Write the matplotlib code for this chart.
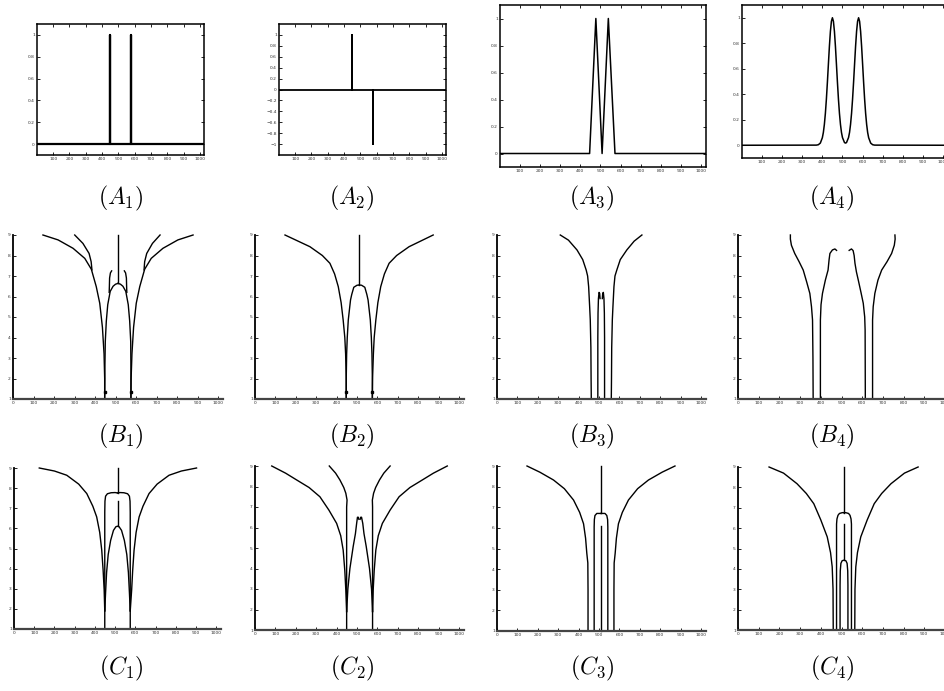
import matplotlib
matplotlib.use('Agg')
import matplotlib.pyplot as plt

plt.rcParams['mathtext.fontset'] = 'cm'

# ---- row A: signals ----
a1_x = [1, 447, 447, 447, 575, 575, 575, 1024]
a1_y = [0, 0, 1, 0, 0, 1, 0, 0]

a2_x = [1, 447, 447, 447, 575, 575, 575, 1024]
a2_y = [0, 0, 1, 0, 0, -1, 0, 0]

a3_x = [1, 446, 477, 508, 539, 572, 1024]
a3_y = [0, 0, 1, 0, 1, 0, 0]

a4_x = [1, 370, 380, 390, 400, 405, 410, 415, 420, 425, 430, 435, 440, 445, 450,
        455, 460, 465, 470, 475, 480, 485, 490, 495, 500, 510, 515, 520, 530, 535,
        540, 545, 550, 555, 560, 565, 570, 575, 580, 585, 590, 595, 600, 605, 610,
        615, 620, 625, 630, 640, 650, 660, 1024]
a4_y = [0, 0.001, 0.004, 0.017, 0.059, 0.100, 0.163, 0.249, 0.360, 0.492, 0.635, 0.775, 0.893, 0.972, 1.0,
        0.972, 0.893, 0.775, 0.635, 0.492, 0.360, 0.249, 0.163, 0.100, 0.060, 0.021, 0.017, 0.021, 0.060, 0.100,
        0.163, 0.249, 0.360, 0.492, 0.635, 0.775, 0.893, 0.972, 1.0, 0.972, 0.893, 0.775, 0.635, 0.492, 0.360,
        0.249, 0.163, 0.100, 0.059, 0.017, 0.004, 0.001, 0]

x_ticks = [100, 200, 300, 400, 500, 600, 700, 800, 900, 1000]
y_ticks_a = [0, 0.2, 0.4, 0.6, 0.8, 1]
y_ticks_a2 = [-1, -0.8, -0.6, -0.4, -0.2, 0, 0.2, 0.4, 0.6, 0.8, 1]

# ---- rows B, C: maxima lines (x, scale) ----
b1_curves = [
    [(146, 9), (220, 8.76), (293, 8.35), (350, 7.86), (382, 7.33), (406, 6.48), (423, 5.67), (436, 4.5), (444, 3.2), (447, 2.0), (447, 1)],
    [(301, 9), (341, 8.59), (371, 8.1), (381, 7.7), (385, 7.3)],
    [(481, 7.25), (475, 7.15), (471, 6.9), (470, 6.5), (469, 6.2)],
    [(512, 6.64), (500, 6.6), (488, 6.5), (474, 6.25), (462, 5.6), (455, 4.8), (450, 3.8), (448, 2.5), (447, 1)],
    [(512, 9), (512, 6.64)],
    [(878, 9), (804, 8.76), (731, 8.35), (674, 7.86), (642, 7.33), (618, 6.48), (601, 5.67), (588, 4.5), (580, 3.2), (576, 2.0), (575, 1)],
    [(717, 9), (680, 8.59), (652, 8.1), (642, 7.7), (639, 7.3)],
    [(543, 7.25), (549, 7.15), (553, 6.9), (554, 6.5), (555, 6.2)],
    [(512, 6.64), (524, 6.6), (536, 6.5), (550, 6.25), (562, 5.6), (569, 4.8), (574, 3.8), (575, 2.5), (575, 1)],
]
b1_marks_x = [447, 575]
b1_marks_y = [1.33, 1.33]

b2_curves = [
    [(147, 9), (269, 8.43), (330, 8.0), (367, 7.62), (390, 7.1), (408, 6.48), (422, 5.7), (432, 4.85), (440, 4.0), (444, 3.2), (447, 2.0), (447, 1)],
    [(511, 6.56), (500, 6.55), (484, 6.45), (474, 6.1), (468, 5.83), (462, 5.3), (457, 4.85), (452, 4.0), (449, 3.2), (447, 2.0), (447, 1)],
    [(511, 9), (511, 6.56)],
    [(511, 6.56), (522, 6.55), (538, 6.45), (548, 6.1), (554, 5.83), (560, 5.3), (565, 4.85), (570, 4.0), (573, 3.2), (575, 2.0), (575, 1)],
    [(873, 9), (755, 8.43), (694, 8.0), (657, 7.62), (634, 7.1), (616, 6.48), (602, 5.7), (592, 4.85), (584, 4.0), (580, 3.2), (576, 2.0), (575, 1)],
]
b2_marks_x = [447, 575]
b2_marks_y = [1.33, 1.33]

b3_curves = [
    [(310, 9), (350, 8.75), (392, 8.27), (420, 7.8), (437, 7.29), (444, 7.0), (449, 6.48), (454, 5.5), (457, 4.85), (460, 3.5), (461, 2), (462, 1)],
    [(494, 1), (494, 4), (495, 5.2), (497, 5.9), (500, 6.2), (503, 6.15), (505, 5.9)],
    [(527, 1), (527, 4), (526, 5.2), (524, 5.9), (521, 6.2), (518, 6.15), (516, 5.9)],
    [(560, 1), (561, 2), (562, 3.5), (565, 4.85), (568, 5.5), (573, 6.48), (578, 7.0), (587, 7.29), (604, 7.8), (636, 8.27), (672, 8.7), (710, 9)],
]

b4_curves = [
    [(253, 9), (253, 8.8), (258, 8.5), (274, 8.1), (295, 7.7), (315, 7.29), (332, 6.7), (347, 6.15), (355, 5.5), (360, 4.85), (362, 3), (363, 1)],
    [(398, 1), (398, 4.85), (401, 5.6), (408, 6.15), (422, 6.8), (435, 7.29), (440, 7.8), (444, 8.1), (456, 8.27), (468, 8.32), (476, 8.25)],
    [(537, 8.25), (548, 8.32), (556, 8.24), (561, 8.0), (565, 7.62), (572, 7.2), (581, 6.8), (594, 6.2), (605, 5.67), (612, 5.0), (614, 4.37), (615, 1)],
    [(650, 1), (650, 4.85), (653, 5.5), (661, 6.15), (676, 6.8), (694, 7.29), (720, 7.7), (742, 8.1), (755, 8.5), (759, 8.8), (758, 9)],
]

c1_curves = [
    [(125, 9), (200, 8.85), (261, 8.64), (320, 8.2), (360, 7.73), (390, 7.1), (409, 6.57), (424, 5.8), (434, 4.92), (441, 3.9), (446, 2.94), (449, 1.9)],
    [(903, 9), (828, 8.85), (767, 8.64), (708, 8.2), (668, 7.73), (638, 7.1), (619, 6.57), (604, 5.8), (594, 4.92), (587, 3.9), (582, 2.94), (575, 1.9)],
    [(512, 7.76), (500, 7.78), (480, 7.77), (462, 7.72), (453, 7.6), (450, 7.35), (449, 6.8), (449, 1)],
    [(512, 7.76), (524, 7.78), (544, 7.77), (562, 7.72), (571, 7.6), (574, 7.35), (575, 6.8), (575, 1)],
    [(449, 1.9), (453, 2.8), (458, 3.8), (466, 4.7), (478, 5.4), (492, 5.9), (504, 6.08), (512, 6.11),
     (520, 6.08), (532, 5.9), (546, 5.4), (558, 4.7), (566, 3.8), (571, 2.8), (575, 1.9)],
    [(512, 9), (512, 7.76)],
    [(512, 7.35), (512, 6.11)],
]

c2_curves = [
    [(82, 9), (150, 8.65), (204, 8.32), (265, 7.95), (318, 7.5), (362, 6.85), (400, 6.2), (420, 5.6), (432, 4.9), (440, 3.9), (445, 2.94), (449, 1.9)],
    [(364, 9), (395, 8.65), (416, 8.32), (435, 7.95), (445, 7.67), (451, 7.34), (449, 7.0), (449, 1)],
    [(449, 1.9), (455, 3.0), (465, 4.0), (481, 5.07), (492, 5.7), (498, 6.2), (502, 6.5), (506, 6.5), (509, 6.4)],
    [(515, 6.4), (518, 6.5), (522, 6.5), (528, 6.2), (534, 5.7), (545, 5.07), (561, 4.0), (571, 3.0), (576, 1.9)],
    [(662, 9), (631, 8.65), (610, 8.32), (591, 7.95), (581, 7.67), (575, 7.34), (576, 7.0), (576, 1)],
    [(942, 9), (874, 8.65), (820, 8.32), (759, 7.95), (706, 7.5), (662, 6.85), (624, 6.2), (604, 5.6), (592, 4.9), (584, 3.9), (579, 2.94), (576, 1.9)],
]

c3_curves = [
    [(147, 9), (210, 8.7), (277, 8.32), (330, 7.9), (375, 7.35), (405, 6.75), (424, 6.2), (434, 5.5), (440, 4.77), (445, 4.3), (446, 3), (446, 1)],
    [(509, 6.7), (489, 6.7), (480, 6.6), (477, 6.4), (476, 6.05), (476, 1)],
    [(509, 6.7), (529, 6.7), (538, 6.6), (542, 6.4), (543, 6.05), (543, 1)],
    [(509, 9), (509, 6.7)],
    [(509, 6.1), (509, 1)],
    [(872, 9), (809, 8.7), (742, 8.32), (689, 7.9), (644, 7.35), (614, 6.75), (595, 6.2), (585, 5.5), (579, 4.77), (574, 4.3), (573, 3), (573, 1)],
]

c4_curves = [
    [(150, 9), (220, 8.7), (285, 8.18), (330, 7.7), (366, 7.2), (400, 6.4), (431, 5.57), (447, 4.8), (455, 4.1), (459, 3), (460, 1)],
    [(512, 6.76), (504, 6.76), (490, 6.72), (483, 6.63), (478, 6.45), (476, 6.2), (476, 1)],
    [(512, 6.76), (520, 6.76), (534, 6.72), (541, 6.63), (546, 6.45), (548, 6.2), (548, 1)],
    [(512, 9), (512, 6.76)],
    [(512, 6.2), (512, 4.43)],
    [(493, 1), (493, 3.2), (494, 3.9), (497, 4.27), (503, 4.4), (512, 4.43), (521, 4.4), (527, 4.27), (530, 3.9), (531, 3.2), (531, 1)],
    [(564, 1), (565, 3), (569, 4.1), (577, 4.8), (593, 5.57), (624, 6.4), (658, 7.2), (694, 7.7), (739, 8.18), (804, 8.7), (870, 9)],
]

scale_x_ticks = [0, 100, 200, 300, 400, 500, 600, 700, 800, 900, 1000]
scale_y_ticks = [1, 2, 3, 4, 5, 6, 7, 8, 9]

labels_a = [r'$(A_1)$', r'$(A_2)$', r'$(A_3)$', r'$(A_4)$']
labels_b = [r'$(B_1)$', r'$(B_2)$', r'$(B_3)$', r'$(B_4)$']
labels_c = [r'$(C_1)$', r'$(C_2)$', r'$(C_3)$', r'$(C_4)$']

W, H = 944, 691
fig = plt.figure(figsize=(W / 100, H / 100), dpi=100)


def px_axes(left, top, right, bottom):
    return fig.add_axes([left / W, 1 - bottom / H, (right - left) / W, (bottom - top) / H])


def tick_label(v):
    s = ('%g' % v)
    return s.replace('-', '\u2212')


def style_signal(ax, ylim, yticks):
    ax.set_xlim(1, 1024)
    ax.set_ylim(*ylim)
    ax.set_xticks(x_ticks)
    ax.set_yticks(yticks)
    ax.set_yticklabels([tick_label(v) for v in yticks])
    ax.tick_params(direction='in', length=2, width=0.6, labelsize=3.2, pad=1.5,
                   top=True, right=True, labelcolor='#333333')
    for sp in ax.spines.values():
        sp.set_linewidth(1.1)


def style_scale(ax):
    ax.set_xlim(0, 1024)
    ax.set_ylim(1, 9)
    ax.set_xticks(scale_x_ticks)
    ax.set_yticks(scale_y_ticks)
    ax.tick_params(direction='in', length=2, width=0.6, labelsize=3.2, pad=1.5,
                   labelcolor='#333333')
    ax.spines['top'].set_visible(False)
    ax.spines['right'].set_visible(False)
    ax.spines['left'].set_linewidth(1.3)
    ax.spines['bottom'].set_linewidth(1.6)
    ax.spines['bottom'].set_color('#444444')


def draw_curves(ax, curves):
    for c in curves:
        ax.plot([p[0] for p in c], [p[1] for p in c], color='black', lw=1.0,
                solid_joinstyle='round', clip_on=False)


# row A
ax = px_axes(37, 24, 204, 155)
ax.plot(a1_x, a1_y, color='black', lw=1.6)
style_signal(ax, (-0.1, 1.1), y_ticks_a)

ax = px_axes(279, 24, 446, 155)
ax.plot(a2_x, a2_y, color='black', lw=1.3)
style_signal(ax, (-1.2, 1.2), y_ticks_a2)

ax = px_axes(500, 5, 706, 167)
ax.plot(a3_x, a3_y, color='black', lw=1.1)
style_signal(ax, (-0.1, 1.1), y_ticks_a)

ax = px_axes(742, 5, 948, 158)
ax.plot(a4_x, a4_y, color='black', lw=1.1)
style_signal(ax, (-0.1, 1.1), y_ticks_a)

# row B
ax = px_axes(13, 235, 223, 399)
draw_curves(ax, b1_curves)
ax.plot(b1_marks_x, b1_marks_y, 's', color='black', ms=2)
style_scale(ax)

ax = px_axes(255, 235, 464, 399)
draw_curves(ax, b2_curves)
ax.plot(b2_marks_x, b2_marks_y, 's', color='black', ms=2)
style_scale(ax)

ax = px_axes(497, 235, 706, 399)
draw_curves(ax, b3_curves)
style_scale(ax)

ax = px_axes(738, 235, 950, 399)
draw_curves(ax, b4_curves)
style_scale(ax)

# row C
ax = px_axes(14, 468, 221, 629)
draw_curves(ax, c1_curves)
style_scale(ax)

ax = px_axes(255, 466, 464, 630)
draw_curves(ax, c2_curves)
style_scale(ax)

ax = px_axes(497, 466, 706, 631)
draw_curves(ax, c3_curves)
style_scale(ax)

ax = px_axes(738, 467, 950, 630)
draw_curves(ax, c4_curves)
style_scale(ax)

# panel captions
label_x = [121, 352, 592, 832]
for lab, x in zip(labels_a, label_x):
    fig.text(x / W, 1 - 198 / H, lab, ha='center', va='center', fontsize=17)
for lab, x in zip(labels_b, label_x):
    fig.text(x / W, 1 - 436 / H, lab, ha='center', va='center', fontsize=17)
for lab, x in zip(labels_c, label_x):
    fig.text(x / W, 1 - 668 / H, lab, ha='center', va='center', fontsize=17)

fig.savefig('out.png', dpi=100)
